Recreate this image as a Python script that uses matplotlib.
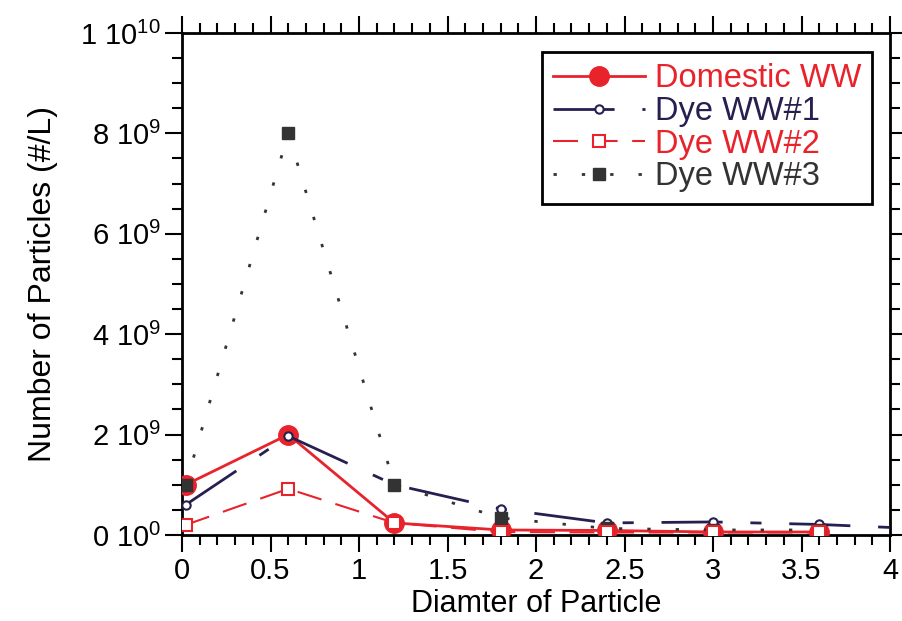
import matplotlib
matplotlib.use("Agg")
import matplotlib.pyplot as plt
from matplotlib.ticker import MultipleLocator, FixedLocator
import numpy as np

plt.rcParams['font.family'] = ['Liberation Sans', 'DejaVu Sans']
plt.rcParams['mathtext.fontset'] = 'custom'
plt.rcParams['mathtext.rm'] = 'Liberation Sans'
plt.rcParams['mathtext.it'] = 'Liberation Sans:italic'

# data
diam = [0.02, 0.6, 1.2, 1.8, 2.4, 3.0, 3.6]
diam_dye1 = [0.02, 0.6, 1.2, 1.8, 2.4, 3.0, 3.6, 4.0]
domestic = [1.0e9, 2.0e9, 0.24e9, 0.10e9, 0.09e9, 0.06e9, 0.06e9]
dye1 = [0.6e9, 1.97e9, 1.0e9, 0.52e9, 0.24e9, 0.26e9, 0.21e9, 0.15e9]
dye2 = [0.2e9, 0.92e9, 0.24e9, 0.06e9, 0.05e9, 0.05e9, 0.05e9]
dye3 = [1.0e9, 8.0e9, 1.0e9, 0.34e9, 0.13e9, 0.10e9, 0.10e9]

xtick_vals = [0, 0.5, 1, 1.5, 2, 2.5, 3, 3.5, 4]
xtick_labels = ['0', '0.5', '1', '1.5', '2', '2.5', '3', '3.5', '4']
ytick_vals = [0, 2e9, 4e9, 6e9, 8e9, 1e10]
ytick_labels = [r'$\mathregular{0\ 10^{0}}$', r'$\mathregular{2\ 10^{9}}$',
                r'$\mathregular{4\ 10^{9}}$', r'$\mathregular{6\ 10^{9}}$',
                r'$\mathregular{8\ 10^{9}}$', r'$\mathregular{1\ 10^{10}}$']

red = '#e8232b'
navy = '#262050'
dark = '#333333'

fig = plt.figure(figsize=(9.02, 6.21), dpi=100)
ax = fig.add_axes([0.2018, 0.1385, 0.785, 0.8084])

ax.plot(diam, domestic, color=red, lw=2, marker='o', ms=14,
        mfc=red, mec=red, label='Domestic WW', zorder=3)
ax.plot(diam_dye1, dye1, color=navy, lw=2, ls=(0, (22, 10, 4, 10)),
        marker='o', ms=6, mfc='white', mec=navy, mew=1.5,
        markevery=slice(0, 7), label='Dye WW#1', zorder=4)
ax.plot(diam, dye2, color=red, lw=1.5, ls=(0, (12, 7)),
        marker='s', ms=8, mfc='white', mec=red, mew=1.5,
        label='Dye WW#2', zorder=5)
ax.plot(diam, dye3, color=dark, lw=2, ls=(0, (1.2, 9)),
        marker='s', ms=9, mfc=dark, mec=dark,
        label='Dye WW#3', zorder=4)

ax.set_xlim(0, 4)
ax.set_ylim(0, 1e10)
ax.xaxis.set_major_locator(FixedLocator(xtick_vals))
ax.xaxis.set_minor_locator(MultipleLocator(0.1))
ax.set_xticklabels(xtick_labels)
ax.yaxis.set_major_locator(FixedLocator(ytick_vals))
ax.yaxis.set_minor_locator(MultipleLocator(5e8))
ax.set_yticklabels(ytick_labels)

ax.tick_params(which='both', direction='out', top=True, right=True,
               labelsize=21, width=1.5, pad=3)
ax.tick_params(axis='x', which='major', pad=4)
ax.tick_params(which='major', length=12)
ax.tick_params(which='minor', length=7)
for s in ax.spines.values():
    s.set_linewidth(2)

ax.set_xlabel('Diamter of Particle', fontsize=22, labelpad=3)
ax.set_ylabel('Number of Particles (#/L)', fontsize=23, labelpad=16)

leg = ax.legend(loc='upper right', bbox_to_anchor=(0.975, 0.962),
                fontsize=23.5, handlelength=2.8, numpoints=1,
                labelspacing=0.05, borderpad=0.35, handletextpad=0.3,
                fancybox=False, framealpha=1, edgecolor='black',
                labelcolor='linecolor', borderaxespad=0)
leg.get_frame().set_linewidth(2)

fig.savefig('out.png', dpi=100)
